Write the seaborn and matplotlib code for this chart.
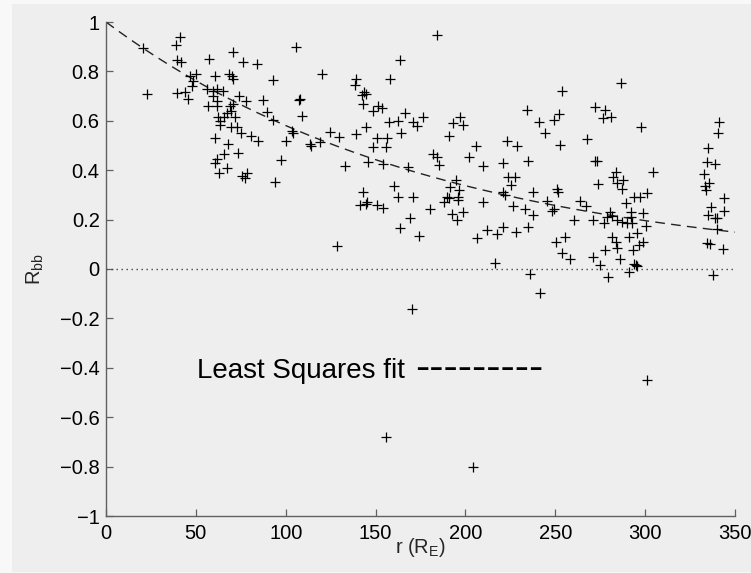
import numpy as np
import pandas as pd
import matplotlib
matplotlib.use("Agg")
import matplotlib.pyplot as plt
from matplotlib.patches import Rectangle
import seaborn as sns

# Radial distance r (Earth radii) of each event
r_vals = [
    20.6, 22.8, 41.0, 39.0, 39.5, 42.0, 39.5, 44.0, 45.7, 46.7, 50.0, 48.0, 48.5,
    57.5, 60.6, 56.0, 59.6, 62.0, 65.0, 59.6, 57.0, 61.6, 62.0, 70.5, 76.0, 84.0,
    68.7, 70.0, 70.5, 74.0, 78.0, 69.0, 70.5, 69.5, 67.3, 65.7, 62.4, 63.4, 63.4,
    71.8, 69.5, 73.0, 75.0, 80.7, 84.6, 60.6, 67.9, 65.7, 73.5, 61.6, 60.6, 67.3,
    63.0, 75.5, 78.4, 77.4,
    93.0, 106.0, 120.0, 139.0, 138.6, 143.6, 144.7, 142.5, 143.0, 163.6, 158.0,
    184.0, 87.4, 107.4, 108.0, 109.0, 89.6, 93.0, 103.5, 104.0, 100.0, 113.5,
    114.0, 119.0, 124.6, 129.7, 139.0, 144.7, 148.6, 151.4, 153.6, 157.5, 162.5,
    166.4, 171.0, 173.0, 176.4, 150.8, 156.4, 148.6, 155.8, 164.0, 145.8, 154.0,
    133.0, 168.0, 97.4, 94.0, 143.0, 160.0, 162.5, 171.0, 182.0, 184.0, 185.3,
    191.0, 193.0, 197.0, 198.7, 206.0, 202.0, 209.8, 194.8, 191.4, 196.4, 190.0,
    196.0, 209.8,
    286.6, 253.8, 234.3, 241.0, 249.3, 252.0, 244.3, 252.6, 272.0, 277.7, 276.6,
    281.0, 267.7, 297.5, 341.0, 340.6, 335.0, 334.4, 339.0, 332.8, 335.6, 333.3,
    334.0, 344.0, 223.0, 228.7, 221.0, 234.8, 223.7, 227.6, 225.4, 221.0, 222.0,
    237.6, 251.0, 251.5, 272.0, 273.0, 283.8, 282.0, 287.7, 284.4, 287.0, 273.8,
    304.4, 293.8, 297.0, 301.0, 263.8, 245.6,
    141.3, 144.7, 145.2, 150.8, 154.0, 180.3, 169.0, 163.6, 174.0, 128.5, 188.0,
    191.0, 196.0, 192.5, 195.3, 198.7, 206.5, 212.0, 217.6, 216.5, 170.0,
    289.4, 267.0, 248.0, 249.3, 226.5, 233.0, 237.6, 221.0, 228.0, 235.0, 236.0,
    241.5, 250.4, 255.4, 253.7, 258.0, 260.4, 271.0, 277.0, 279.0, 280.5, 284.4,
    287.0, 290.0, 292.0, 292.0, 292.7, 298.8, 300.5, 281.6, 281.6, 283.8, 284.4,
    277.7, 291.0, 295.5, 298.8, 296.6, 293.3, 271.0, 275.0, 286.0, 279.4, 291.0,
    293.8, 295.0, 295.5, 336.7, 344.0, 335.0, 339.0, 340.0, 340.0, 334.4, 336.0,
    343.4, 337.8,
    155.9, 204.0, 301.0,
]

# Correlation coefficient R_bb of each event
rbb_vals = [
    0.895, 0.71, 0.94, 0.907, 0.846, 0.84, 0.713, 0.717, 0.69, 0.78, 0.79, 0.74, 0.76,
    0.85, 0.78, 0.73, 0.72, 0.73, 0.72, 0.70, 0.66, 0.68, 0.66, 0.88, 0.84, 0.83,
    0.79, 0.78, 0.77, 0.70, 0.68, 0.66, 0.67, 0.64, 0.63, 0.615, 0.615, 0.60, 0.585,
    0.615, 0.575, 0.575, 0.55, 0.54, 0.52, 0.53, 0.505, 0.465, 0.47, 0.445, 0.43, 0.41,
    0.39, 0.375, 0.39, 0.37,
    0.765, 0.90, 0.79, 0.77, 0.745, 0.717, 0.708, 0.704, 0.67, 0.846, 0.77,
    0.947, 0.684, 0.684, 0.69, 0.62, 0.637, 0.605, 0.56, 0.55, 0.52, 0.505,
    0.50, 0.515, 0.555, 0.535, 0.546, 0.575, 0.64, 0.66, 0.65, 0.595, 0.60,
    0.63, 0.595, 0.58, 0.615, 0.53, 0.53, 0.494, 0.494, 0.55, 0.433, 0.425,
    0.417, 0.413, 0.44, 0.352, 0.312, 0.336, 0.29, 0.29, 0.465, 0.453, 0.42,
    0.54, 0.59, 0.615, 0.583, 0.50, 0.453, 0.417, 0.36, 0.33, 0.32, 0.29,
    0.29, 0.27,
    0.753, 0.72, 0.644, 0.595, 0.603, 0.627, 0.55, 0.502, 0.656, 0.644, 0.61,
    0.615, 0.526, 0.575, 0.595, 0.55, 0.49, 0.433, 0.425, 0.385, 0.348, 0.336,
    0.32, 0.287, 0.518, 0.498, 0.43, 0.437, 0.372, 0.372, 0.34, 0.312, 0.30,
    0.312, 0.324, 0.312, 0.437, 0.437, 0.393, 0.372, 0.36, 0.348, 0.324, 0.344,
    0.393, 0.29, 0.29, 0.308, 0.275, 0.275,
    0.259, 0.263, 0.27, 0.259, 0.247, 0.243, 0.206, 0.166, 0.134, 0.093, 0.27,
    0.287, 0.28, 0.222, 0.198, 0.23, 0.125, 0.158, 0.142, 0.024, -0.16,
    0.267, 0.255, 0.235, 0.243, 0.255, 0.243, 0.219, 0.17, 0.15, 0.17, -0.02,
    -0.097, 0.11, 0.13, 0.065, 0.04, 0.20, 0.20, 0.186, 0.21, 0.23, 0.20,
    0.19, 0.186, 0.21, 0.23, 0.186, 0.227, 0.174, 0.215, 0.13, 0.11, 0.085,
    0.077, 0.13, 0.146, 0.11, 0.097, 0.077, 0.049, 0.016, 0.04, -0.032, -0.012,
    0.02, 0.016, 0.012, 0.251, 0.235, 0.219, 0.206, 0.206, 0.162, 0.105, 0.101,
    0.081, -0.024,
    -0.68, -0.80, -0.45,
]

# Exponential least-squares fit R_bb = exp(-r / L)
fit_length = 184.0
fit_r = np.linspace(0, 350, 200)

x_ticks = [0, 50, 100, 150, 200, 250, 300, 350]
y_ticks = [-1, -0.8, -0.6, -0.4, -0.2, 0, 0.2, 0.4, 0.6, 0.8, 1]
y_tick_labels = ["\u22121", "\u22120.8", "\u22120.6", "\u22120.4", "\u22120.2",
                 "0", "0.2", "0.4", "0.6", "0.8", "1"]

sns.set_style("ticks")
plt.rcParams["font.family"] = ["Liberation Sans", "DejaVu Sans"]
plt.rcParams["mathtext.fontset"] = "custom"
plt.rcParams["mathtext.rm"] = "Liberation Sans"
plt.rcParams["mathtext.it"] = "Liberation Sans:italic"

W, H = 751, 573
bg = "#eeeeee"
fig = plt.figure(figsize=(W / 100, H / 100), dpi=100)
fig.patch.set_facecolor("#f8f8f8")
fig.patches.append(Rectangle((12 / W, 1 / H), 1, 1 - 5 / H, transform=fig.transFigure,
                             facecolor=bg, edgecolor="none", zorder=-10))

ax = fig.add_axes([106 / W, 1 - 516 / H, (735 - 106) / W, (516 - 22) / H])
ax.set_facecolor(bg)

df = pd.DataFrame({"r": r_vals, "rbb": rbb_vals})
sns.scatterplot(data=df, x="r", y="rbb", marker="+", color="black", s=45,
                linewidth=0.9, ax=ax, zorder=3)

fit_df = pd.DataFrame({"r": fit_r, "rbb": np.exp(-fit_r / fit_length)})
sns.lineplot(data=fit_df, x="r", y="rbb", color="#222222", linewidth=1.0,
             linestyle=(0, (7, 4.5)), sort=False, estimator=None, ax=ax, zorder=2)

ax.axhline(0, color="#444444", linewidth=1.0, linestyle=(0, (1, 2.6)), zorder=1)

# Inline key for the fitted curve
ax.text(50.6, -0.441, "Least Squares fit", fontsize=20, color="black",
        ha="left", va="baseline")
ax.text(172.0, -0.448, "---------", fontsize=31, color="black",
        ha="left", va="baseline")

ax.set_xlim(0, 350)
ax.set_ylim(-1, 1)
ax.set_xticks(x_ticks)
ax.set_xticklabels([str(t) for t in x_ticks])
ax.set_yticks(y_ticks)
ax.set_yticklabels(y_tick_labels)

for side in ("top", "right"):
    ax.spines[side].set_visible(False)
for side in ("left", "bottom"):
    ax.spines[side].set_color("#606060")
    ax.spines[side].set_linewidth(1.0)

ax.tick_params(direction="in", length=5, width=0.9, color="#606060",
               labelsize=14.5, labelcolor="black", pad=4.5)
ax.tick_params(axis="x", pad=6)

ax.set_xlabel(r"r (R$_{\rm E}$)", fontsize=14.5, labelpad=-5)
ax.set_ylabel(r"R$_{\rm bb}$", fontsize=14.5, labelpad=10)

fig.savefig("out.png", dpi=100, facecolor=fig.get_facecolor())
